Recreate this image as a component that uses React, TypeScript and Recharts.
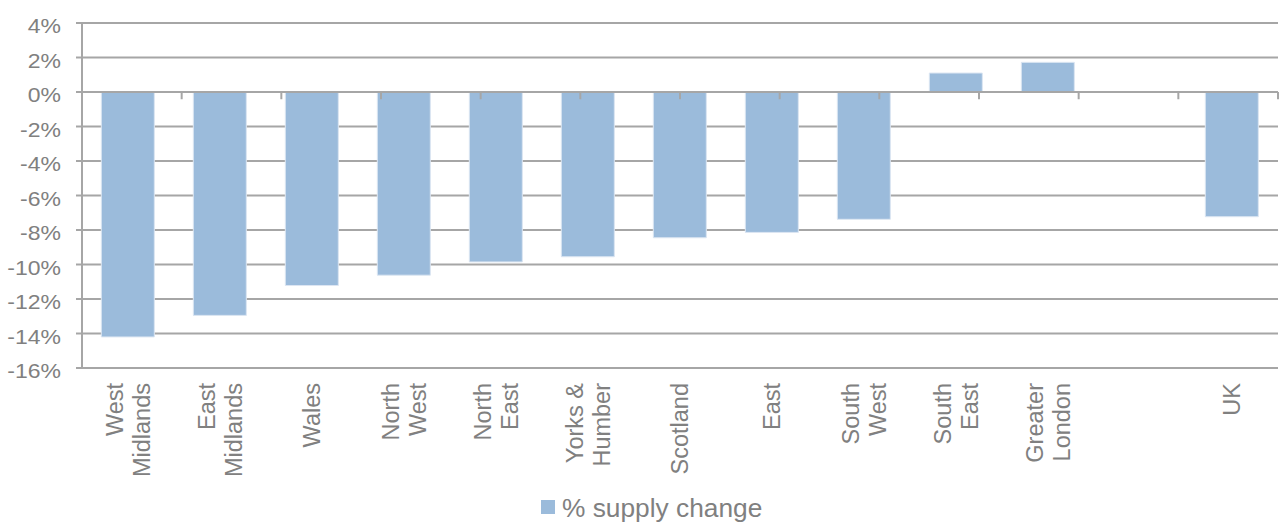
import React from "react";
import {
  BarChart,
  Bar,
  XAxis,
  YAxis,
  CartesianGrid,
  ReferenceLine,
  Legend,
} from "recharts";

const categories = [
  "West\nMidlands",
  "East\nMidlands",
  "Wales",
  "North\nWest",
  "North\nEast",
  "Yorks &\nHumber",
  "Scotland",
  "East",
  "South\nWest",
  "South\nEast",
  "Greater\nLondon",
  "",
  "UK",
];

const supplyChange: (number | null)[] = [
  -14.2, -12.95, -11.22, -10.62, -9.85, -9.55, -8.45, -8.14, -7.38, 1.1, 1.72, null, -7.23,
];

const yTicks = [-16, -14, -12, -10, -8, -6, -4, -2, 0, 2, 4];
const boundaryTicks = [1, 2, 3, 4, 5, 6, 7, 8, 9, 10, 11, 12, 13];

const seriesName = "% supply change";

const data = categories.map((name, i) => ({ name, value: supplyChange[i] }));

const GREY = "#a6a6a6";
const TEXT = "#808080";
const BAR = "#9bbbdb";
const FONT = "Arial, 'Liberation Sans', sans-serif";

const YTick = (props: any) => {
  const { x, y, payload } = props;
  return (
    <g transform={`translate(${x},${y + 10})`}>
      <text
        textAnchor="end"
        transform="scale(1.15,1)"
        fontSize={20}
        fontFamily={FONT}
        fill={TEXT}
      >
        {`${payload.value}%`}
      </text>
    </g>
  );
};

const XTick = (props: any) => {
  const { x, y, payload } = props;
  const lines: string[] = String(payload.value).split("\n");
  const n = lines.length;
  const lh = 26.7;
  return (
    <g>
      {lines.map((line, i) => (
        <text
          key={i}
          transform={`translate(${x + (i - (n - 1) / 2) * lh},${y}) rotate(-90)`}
          textAnchor="end"
          dy="0.36em"
          fontSize={23.5}
          fontFamily={FONT}
          fill={TEXT}
        >
          {line}
        </text>
      ))}
    </g>
  );
};

const LegendContent = () => (
  <svg width={1286} height={43} style={{ display: "block" }}>
    <rect x={541} y={20} width={14} height={14} fill={BAR} />
    <text x={562} y={36.5} fontSize={26.3} fontFamily={FONT} fill={TEXT}>
      {seriesName}
    </text>
  </svg>
);

export default function App() {
  return (
    <div style={{ position: "absolute", left: 0, top: 0, background: "#fff" }}>
      <BarChart
        width={1286}
        height={523}
        data={data}
        margin={{ top: 23, right: 8, left: 0, bottom: 0 }}
        barCategoryGap="21%"
      >
        <CartesianGrid
          vertical={false}
          horizontal={true}
          stroke={GREY}
          strokeWidth={2}
        />
        <XAxis
          dataKey="name"
          interval={0}
          axisLine={false}
          tickLine={false}
          tickSize={0}
          tickMargin={15}
          height={112}
          tick={<XTick />}
        />
        <XAxis
          xAxisId="num"
          type="number"
          domain={[0, 13]}
          hide
        />
        <YAxis
          width={82}
          domain={[-16, 4]}
          ticks={yTicks}
          interval={0}
          axisLine={{ stroke: GREY, strokeWidth: 2 }}
          tickLine={{ stroke: GREY, strokeWidth: 2 }}
          tickSize={6}
          tickMargin={15}
          tick={<YTick />}
        />
        <Bar
          dataKey="value"
          name={seriesName}
          fill={BAR}
          stroke="#dce6f2"
          strokeWidth={1}
          isAnimationActive={false}
        />
        <ReferenceLine y={0} stroke={GREY} strokeWidth={2} />
        {boundaryTicks.map((k) => (
          <ReferenceLine
            key={k}
            xAxisId="num"
            segment={[
              { x: k, y: 0 },
              { x: k, y: -0.42 },
            ]}
            stroke={GREY}
            strokeWidth={2}
          />
        ))}
        <Legend verticalAlign="bottom" content={<LegendContent />} />
      </BarChart>
    </div>
  );
}
